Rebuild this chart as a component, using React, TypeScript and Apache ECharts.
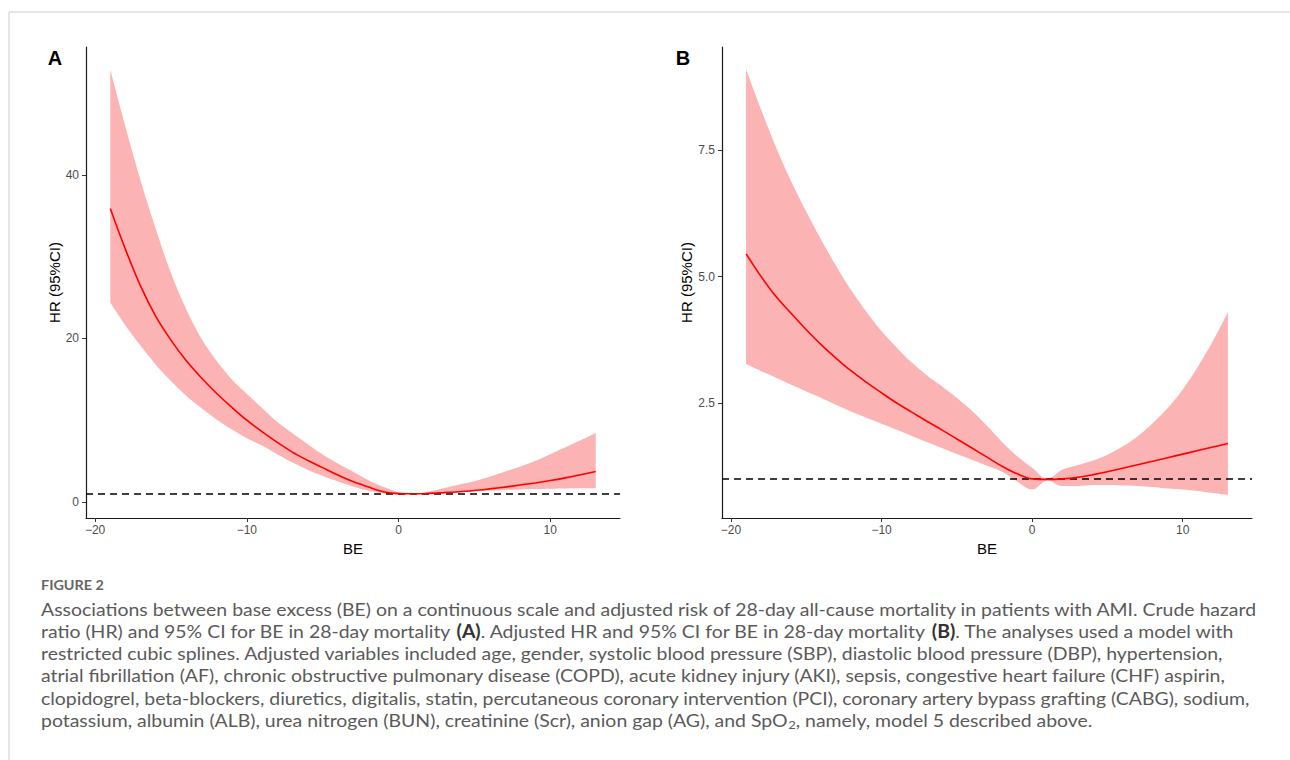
import { useEffect, useRef } from 'react';
import * as echarts from 'echarts';

// ---- data ----
const BE_VALUES = [-19, -18, -17, -16, -15, -14, -13, -12, -11, -10, -9, -8, -7, -6, -5, -4, -3, -2, -1, 0, 1, 2, 3, 4, 5, 6, 7, 8, 9, 10, 11, 12, 13];

// Panel A: crude HR
const HR_A = [35.9, 30.9, 26.4, 22.7, 19.8, 17.3, 15.2, 13.3, 11.6, 10.0, 8.6, 7.3, 6.1, 5.1, 4.2, 3.3, 2.5, 1.85, 1.25, 1.02, 1.0, 1.05, 1.14, 1.26, 1.4, 1.6, 1.82, 2.07, 2.33, 2.62, 2.95, 3.32, 3.72];
const LOWER_A = [24.4, 21.6, 19.1, 16.8, 14.8, 13.0, 11.5, 10.1, 8.9, 7.8, 6.9, 5.85, 4.85, 3.95, 3.2, 2.5, 1.9, 1.4, 1.05, 0.93, 0.98, 1.0, 1.08, 1.18, 1.3, 1.4, 1.48, 1.54, 1.58, 1.62, 1.65, 1.67, 1.68];
const UPPER_A = [52.9, 45.9, 39.3, 33.4, 28.0, 23.6, 20.0, 17.3, 15.0, 13.2, 11.5, 9.8, 8.4, 7.1, 5.8, 4.7, 3.7, 2.7, 1.85, 1.2, 1.02, 1.25, 1.7, 2.15, 2.55, 3.1, 3.7, 4.3, 5.0, 5.85, 6.7, 7.55, 8.45];

// Panel B: adjusted HR
const HR_B = [5.45, 5.0, 4.6, 4.27, 3.95, 3.65, 3.38, 3.13, 2.91, 2.7, 2.5, 2.32, 2.14, 1.97, 1.79, 1.61, 1.43, 1.25, 1.1, 1.0, 0.99, 1.0, 1.03, 1.08, 1.14, 1.21, 1.28, 1.35, 1.42, 1.49, 1.56, 1.63, 1.7];
const LOWER_B = [3.27, 3.13, 3.0, 2.86, 2.73, 2.6, 2.46, 2.33, 2.21, 2.09, 1.97, 1.85, 1.73, 1.61, 1.49, 1.38, 1.26, 1.14, 0.95, 0.79, 0.97, 0.86, 0.86, 0.88, 0.88, 0.87, 0.86, 0.84, 0.81, 0.79, 0.76, 0.72, 0.68];
const UPPER_B = [9.1, 8.3, 7.55, 6.88, 6.28, 5.72, 5.2, 4.72, 4.3, 3.92, 3.6, 3.3, 3.05, 2.83, 2.6, 2.35, 2.05, 1.73, 1.45, 1.22, 1.0, 1.18, 1.27, 1.36, 1.48, 1.64, 1.84, 2.1, 2.4, 2.77, 3.22, 3.72, 4.3];

const X_TICKS = [-20, -10, 0, 10];
const Y_TICKS_A = [0, 20, 40];
const Y_TICKS_B = [2.5, 5.0, 7.5];
const REFERENCE_HR = 1;

const PANEL_LABELS = ['A', 'B'];
const X_TITLE = 'BE';
const Y_TITLE = 'HR (95%CI)';
const FIGURE_LABEL = 'FIGURE 2';
const CAPTION_LINES = [
  'Associations between base excess (BE) on a continuous scale and adjusted risk of 28-day all-cause mortality in patients with AMI. Crude hazard',
  'ratio (HR) and 95% CI for BE in 28-day mortality {b|(A)}. Adjusted HR and 95% CI for BE in 28-day mortality {b|(B)}. The analyses used a model with',
  'restricted cubic splines. Adjusted variables included age, gender, systolic blood pressure (SBP), diastolic blood pressure (DBP), hypertension,',
  'atrial fibrillation (AF), chronic obstructive pulmonary disease (COPD), acute kidney injury (AKI), sepsis, congestive heart failure (CHF) aspirin,',
  'clopidogrel, beta-blockers, diuretics, digitalis, statin, percutaneous coronary intervention (PCI), coronary artery bypass grafting (CABG), sodium,',
  'potassium, albumin (ALB), urea nitrogen (BUN), creatinine (Scr), anion gap (AG), and SpO{sub|2}, namely, model 5 described above.',
];

const FONT = '"Liberation Sans", Arial, sans-serif';
const CAPTION_FONT = 'Lato, "Noto Sans", sans-serif';
const BAND_COLOR = '#FBB3B3';
const LINE_COLOR = '#FF0000';

function measure(text: string, font: string): number {
  const ctx = document.createElement('canvas').getContext('2d');
  if (!ctx) return text.length * 8;
  ctx.font = font;
  return ctx.measureText(text).width;
}

function minusFmt(v: number) {
  return String(v).replace('-', '\u2212');
}

// CI ribbon: a stacked pair (lower bound + band width). The value column is put first
// so that ECharts stacks the HR dimension (both axes are value axes).
function panelSeries(idx: number, lower: number[], mid: number[], upper: number[]) {
  const stack = 'ci' + idx;
  return [
    {
      type: 'line', xAxisIndex: idx, yAxisIndex: idx, silent: true, stack,
      encode: { x: 1, y: 0 },
      data: BE_VALUES.map((x, i) => [lower[i], x]),
      symbol: 'none', smooth: 0.35, lineStyle: { width: 0, opacity: 0 }, z: 1,
    },
    {
      type: 'line', xAxisIndex: idx, yAxisIndex: idx, silent: true, stack,
      encode: { x: 1, y: 0 },
      data: BE_VALUES.map((x, i) => [upper[i] - lower[i], x]),
      symbol: 'none', smooth: 0.35, lineStyle: { width: 0, opacity: 0 },
      areaStyle: { color: BAND_COLOR, opacity: 1 }, z: 1,
    },
    {
      type: 'line', xAxisIndex: idx, yAxisIndex: idx, silent: true,
      data: BE_VALUES.map((x, i) => [x, mid[i]]),
      symbol: 'none', smooth: 0.35, z: 4,
      lineStyle: { color: LINE_COLOR, width: 1.6 },
      markLine: {
        silent: true, symbol: ['none', 'none'], label: { show: false }, z: 3,
        lineStyle: { color: '#000', type: [7, 5], width: 1.5 },
        data: [{ yAxis: REFERENCE_HR }],
      },
    },
  ];
}

function xAxisCfg(idx: number) {
  return {
    type: 'value', gridIndex: idx, min: -20.6, max: 14.6,
    splitLine: { show: false },
    axisLine: { show: true, onZero: false, lineStyle: { color: '#1a1a1a', width: 1.2 } },
    axisTick: { show: true, length: 4, customValues: X_TICKS, lineStyle: { color: '#333', width: 1 } },
    axisLabel: { customValues: X_TICKS, color: '#4d4d4d', fontSize: 12, fontFamily: FONT, margin: 6, formatter: (v: number) => minusFmt(v) },
    name: X_TITLE, nameLocation: 'middle', nameGap: 21,
    nameTextStyle: { color: '#000', fontSize: 15, fontFamily: FONT, verticalAlign: 'top' },
  };
}

function yAxisCfg(idx: number, min: number, max: number, ticks: number[], digits: number) {
  return {
    type: 'value', gridIndex: idx, min, max,
    splitLine: { show: false },
    axisLine: { show: true, onZero: false, lineStyle: { color: '#1a1a1a', width: 1.2 } },
    axisTick: { show: true, length: 4, customValues: ticks, lineStyle: { color: '#333', width: 1 } },
    axisLabel: { customValues: ticks, color: '#4d4d4d', fontSize: 12, fontFamily: FONT, margin: 7, formatter: (v: number) => v.toFixed(digits) },
    name: Y_TITLE, nameLocation: 'middle', nameGap: 21,
    nameTextStyle: { color: '#000', fontSize: 15, fontFamily: FONT },
  };
}

export default function App() {
  const ref = useRef<HTMLDivElement>(null);
  useEffect(() => {
    if (!ref.current) return;
    const chart = echarts.init(ref.current, null, { renderer: 'svg' });

    const capSize = 18;
    const plain = CAPTION_LINES[0].replace(/\{\w+\|([^}]*)\}/g, '$1');
    const capScale = 1218 / measure(plain, `${capSize}px ${CAPTION_FONT}`);
    const figScale = 63 / measure(FIGURE_LABEL, `bold 14px ${CAPTION_FONT}`);

    const captionTexts = CAPTION_LINES.map((line, i) => ({
      type: 'text', x: 41, y: 609 + i * 22.2, scaleX: capScale, silent: true,
      style: {
        text: line, fill: '#5a5a5a', fontSize: capSize, fontFamily: CAPTION_FONT,
        verticalAlign: 'middle', lineHeight: 22,
        rich: {
          b: { fill: '#333', fontSize: capSize, fontFamily: CAPTION_FONT, fontWeight: 'bold', lineHeight: 22 },
          sub: { fill: '#5a5a5a', fontSize: 12, fontFamily: CAPTION_FONT, verticalAlign: 'bottom', lineHeight: 22 },
        },
      },
    }));

    const option = {
      animation: false,
      backgroundColor: '#fff',
      grid: [
        { left: 86, top: 47, width: 534, height: 471, containLabel: false },
        { left: 722, top: 47, width: 530, height: 471, containLabel: false },
      ],
      xAxis: [xAxisCfg(0), xAxisCfg(1)],
      yAxis: [
        yAxisCfg(0, -1.96, 55.66, Y_TICKS_A, 0),
        yAxisCfg(1, 0.227, 9.54, Y_TICKS_B, 1),
      ],
      series: [
        ...panelSeries(0, LOWER_A, HR_A, UPPER_A),
        ...panelSeries(1, LOWER_B, HR_B, UPPER_B),
      ],
      graphic: [
        { type: 'rect', silent: true, shape: { x: 9, y: 12, width: 1300, height: 800 }, style: { fill: 'none', stroke: '#cccccc', lineWidth: 1 } },
        { type: 'text', x: 55, y: 58, silent: true, style: { text: PANEL_LABELS[0], fill: '#000', fontSize: 20, fontWeight: 'bold', fontFamily: FONT, align: 'center', verticalAlign: 'middle' } },
        { type: 'text', x: 683, y: 58, silent: true, style: { text: PANEL_LABELS[1], fill: '#000', fontSize: 20, fontWeight: 'bold', fontFamily: FONT, align: 'center', verticalAlign: 'middle' } },
        { type: 'text', x: 41, y: 585, scaleX: figScale, silent: true, style: { text: FIGURE_LABEL, fill: '#666', fontSize: 14, fontWeight: 'bold', fontFamily: CAPTION_FONT, verticalAlign: 'middle' } },
        ...captionTexts,
      ],
    };
    chart.setOption(option as any);
    return () => chart.dispose();
  }, []);
  return <div ref={ref} style={{ position: 'absolute', left: 0, top: 0, width: 1290, height: 760, background: '#fff' }} />;
}
